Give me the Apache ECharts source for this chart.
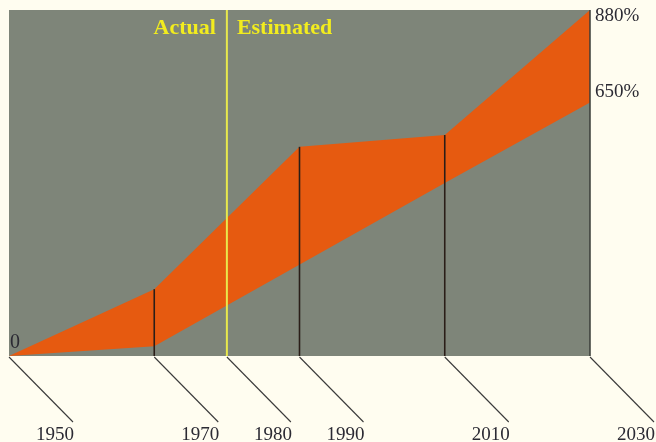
<!DOCTYPE html>
<html>
<head>
<meta charset="utf-8">
<script src="https://cdn.jsdelivr.net/npm/echarts@6/dist/echarts.min.js"></script>
<style>
html, body { margin: 0; padding: 0; background: #fffdf0; }
#chart { width: 656px; height: 442px; }
</style>
</head>
<body>
<div id="chart"></div>
<script>
// tick years along the bottom
var years = [1950, 1970, 1980, 1990, 2010, 2030];
// upper edge of the band (%)
var upperYears = [1950, 1970, 1990, 2010, 2030];
var upperVals = [0, 170, 532, 562, 880];
// lower edge of the band (%)
var lowerYears = [1950, 1970, 2010, 2030];
var lowerVals = [0, 25, 440, 645];
// black guide lines run up to the upper edge
var guideYears = [1970, 1990, 2010];
var dividerYear = 1980;
var endLabels = ['880%', '650%'];

var serif = '"Liberation Serif", "DejaVu Serif", serif';
var ink = '#2b2a33';

function upperAt(y) {
	var i = upperYears.indexOf(y);
	return upperVals[i];
}

var chart = echarts.init(document.getElementById('chart'));

var option = {
	backgroundColor: '#fffdf0',
	animation: false,
	grid: {
		left: 9, right: 66, top: 10, bottom: 86,
		show: true, backgroundColor: '#7e8579', borderWidth: 0
	},
	xAxis: { type: 'value', min: 1950, max: 2030, show: false },
	yAxis: { type: 'value', min: 0, max: 880, show: false },
	series: [
		{
			// orange band
			type: 'custom',
			data: [[1950, 0]],
			renderItem: function(params, api) {
				var pts = [];
				for (var i = 0; i < upperYears.length; i++) pts.push(api.coord([upperYears[i], upperVals[i]]));
				for (var j = lowerYears.length - 1; j >= 0; j--) pts.push(api.coord([lowerYears[j], lowerVals[j]]));
				return { type: 'polygon', shape: { points: pts }, style: { fill: '#e65a10' } };
			},
			z: 2
		},
		{
			// vertical lines + annotations
			type: 'custom',
			data: [[1950, 0]],
			renderItem: function(params, api) {
				var kids = [];
				for (var i = 0; i < guideYears.length; i++) {
					var a = api.coord([guideYears[i], 0]);
					var b = api.coord([guideYears[i], upperAt(guideYears[i])]);
					kids.push({ type: 'line', shape: { x1: a[0], y1: a[1], x2: b[0], y2: b[1] },
						style: { stroke: '#2a1e18', lineWidth: 1.6 } });
				}
				var d0 = api.coord([dividerYear, 0]);
				var d1 = api.coord([dividerYear, 880]);
				kids.push({ type: 'line', shape: { x1: d0[0], y1: d0[1], x2: d1[0], y2: d1[1] },
					style: { stroke: '#e8e84c', lineWidth: 2 } });
				var r0 = api.coord([2030, 0]);
				var r1 = api.coord([2030, 880]);
				kids.push({ type: 'line', shape: { x1: r0[0], y1: r0[1], x2: r1[0], y2: r1[1] },
					style: { stroke: '#3a3d38', lineWidth: 1.5 } });
				kids.push({ type: 'text', x: d1[0] - 11, y: d1[1] + 18,
					style: { text: 'Actual', fill: '#f2ec1e', font: 'bold 22px ' + serif, align: 'right', verticalAlign: 'middle' } });
				kids.push({ type: 'text', x: d1[0] + 10, y: d1[1] + 18,
					style: { text: 'Estimated', fill: '#f2ec1e', font: 'bold 22px ' + serif, align: 'left', verticalAlign: 'middle' } });
				var z = api.coord([1950, 0]);
				kids.push({ type: 'text', x: z[0] + 1, y: z[1] - 13,
					style: { text: '0', fill: ink, font: '20px ' + serif, align: 'left', verticalAlign: 'middle' } });
				var e1 = api.coord([2030, upperVals[upperVals.length - 1]]);
				var e2 = api.coord([2030, lowerVals[lowerVals.length - 1]]);
				kids.push({ type: 'text', x: e1[0] + 5, y: e1[1] + 6,
					style: { text: endLabels[0], fill: ink, font: '19px ' + serif, align: 'left', verticalAlign: 'middle' } });
				kids.push({ type: 'text', x: e2[0] + 5, y: e2[1] - 10,
					style: { text: endLabels[1], fill: ink, font: '19px ' + serif, align: 'left', verticalAlign: 'middle' } });
				return { type: 'group', children: kids };
			},
			z: 3
		},
		{
			// slanted ticks and year labels below the plot
			type: 'custom',
			clip: false,
			data: years.map(function(y) { return [y, 0]; }),
			renderItem: function(params, api) {
				var p = api.coord([api.value(0), 0]);
				return {
					type: 'group',
					children: [
						{ type: 'line', shape: { x1: p[0], y1: p[1] + 1, x2: p[0] + 64, y2: p[1] + 66 },
							style: { stroke: '#3a3a3a', lineWidth: 1.1 } },
						{ type: 'text', x: p[0] + 46, y: p[1] + 79,
							style: { text: String(api.value(0)), fill: ink, font: '19px ' + serif, align: 'center', verticalAlign: 'middle' } }
					]
				};
			},
			z: 3
		}
	]
};

chart.setOption(option);
</script>
</body>
</html>
